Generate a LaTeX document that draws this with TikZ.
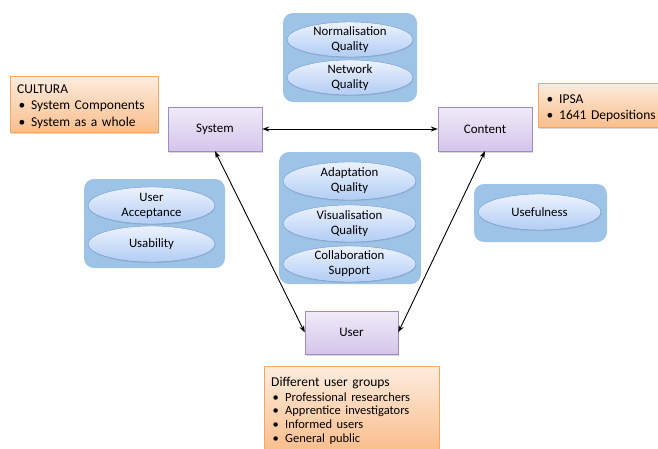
\documentclass[tikz,border=0pt]{standalone}
\usepackage{fontspec}
\setmainfont{Carlito}
\usetikzlibrary{shapes.geometric,arrows.meta,shadows}

\definecolor{groupblue}{RGB}{157,195,230}
\definecolor{qualtop}{RGB}{236,242,253}
\definecolor{qualbot}{RGB}{178,205,245}
\definecolor{qualline}{RGB}{112,152,212}
\definecolor{systop}{RGB}{240,235,248}
\definecolor{sysbot}{RGB}{212,197,234}
\definecolor{sysline}{RGB}{160,140,196}
\definecolor{notetop}{RGB}{253,236,222}
\definecolor{notebot}{RGB}{250,190,140}
\definecolor{noteline}{RGB}{244,166,98}

\newcommand{\itm}{\hspace*{1.5pt}\makebox[12.5pt][l]{\textbullet}}

\begin{document}
\begin{tikzpicture}[x=1pt,y=-1pt,
    group/.style={fill=groupblue, rounded corners=10pt, inner sep=0pt},
    quality/.style={ellipse, draw=qualline, top color=qualtop, bottom color=qualbot,
      inner xsep=0pt, inner ysep=-4pt, align=center, font=\fontsize{12.8}{15}\selectfont,
      drop shadow={opacity=0.25, shadow xshift=0.5pt, shadow yshift=-1pt}},
    sysbox/.style={draw=sysline, top color=systop, bottom color=sysbot,
      minimum width=94pt, minimum height=44pt, font=\fontsize{13}{15}\selectfont,
      drop shadow={opacity=0.3, shadow xshift=1pt, shadow yshift=-1.5pt}},
    notebox/.style={draw=noteline, top color=notetop, bottom color=notebot, anchor=north west,
      inner xsep=7pt, font=\fontsize{13.5}{16.5}\selectfont,
      drop shadow={opacity=0.3, shadow xshift=1pt, shadow yshift=-1.5pt}},
    link/.style={{Stealth[length=7pt,width=5pt]}-{Stealth[length=7pt,width=5pt]}, line width=0.9pt}]
  \clip (0,0) rectangle (658,448);

  % groups of qualities
  \node[group, minimum width=134pt, minimum height=89pt] (gnet) at (350,57.5) {};
  \node[group, minimum width=141pt, minimum height=89pt] (guser) at (154.5,223.5) {};
  \node[group, minimum width=142pt, minimum height=132pt] (gtool) at (350,218) {};
  \node[group, minimum width=133pt, minimum height=58pt] (guse) at (540.5,213) {};

  \node[quality, minimum width=126pt, minimum height=35pt] (qnorm) at (350,39.5) {Normalisation\\Quality};
  \node[quality, minimum width=126pt, minimum height=35pt] (qnet) at (350,77.5) {Network\\Quality};
  \node[quality, minimum width=127pt, minimum height=37pt] (qacc) at (151.5,205.5) {User\\Acceptance};
  \node[quality, minimum width=127pt, minimum height=36pt] (qusab) at (151.5,244) {Usability};
  \node[quality, minimum width=133pt, minimum height=38pt] (qadap) at (349.5,181) {Adaptation\\Quality};
  \node[quality, minimum width=133pt, minimum height=37pt] (qvis) at (349.5,223.5) {Visualisation\\Quality};
  \node[quality, minimum width=133pt, minimum height=36pt] (qcoll) at (349.5,264) {Collaboration\\Support};
  \node[quality, minimum width=123pt, minimum height=36pt] (quse) at (539.5,212) {Usefulness};

  % main boxes
  \node[sysbox] (sys) at (215,129) {System};
  \node[sysbox] (con) at (485,129) {Content};
  \node[sysbox, minimum width=93pt, minimum height=43pt] (usr) at (351.5,332.5) {User};

  % notes
  \node[notebox, text width=134pt, inner ysep=4pt] (ncultura) at (10,76)
    {\rule{0pt}{13pt}CULTURA\par \itm System Components\par \itm System as a whole};
  \node[notebox, text width=132pt, minimum height=44pt, inner ysep=4.5pt, font=\fontsize{13.5}{15.5}\selectfont] (nipsa) at (538,83)
    {\rule{0pt}{15pt}\itm IPSA\par \itm 1641 Depositions};
  \node[notebox, text width=161pt, inner ysep=6pt] (ngroups) at (264,366)
    {\rule{0pt}{14pt}Different user groups\par\vspace{1.4pt}
     {\fontsize{12.5}{13.6}\selectfont \itm Professional researchers\par \itm Apprentice investigators\par
      \itm Informed users\par \itm General public\par}};

  \path[link]
    (sys.east) edge (con.west)
    (sys.south) edge (usr.west)
    (con.south) edge (usr.east)
    ;
\end{tikzpicture}
\end{document}
